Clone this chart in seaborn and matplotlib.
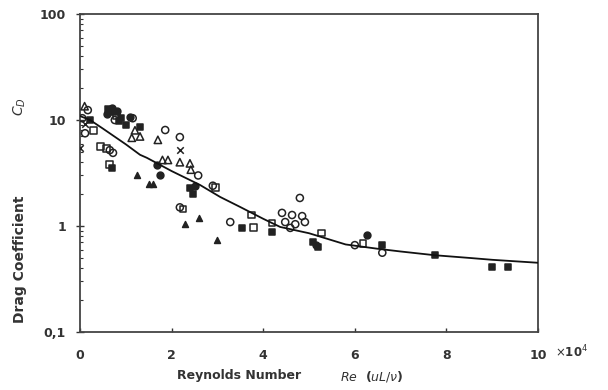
import seaborn as sns
import matplotlib.pyplot as plt
import matplotlib.ticker as mticker
import pandas as pd

sns.set_style("ticks")
plt.rcParams['font.family'] = ['DejaVu Sans']

# Reynolds number (x 10^4) and drag coefficient, per marker type
open_circle_x = [0.05, 0.17, 0.11, 0.65, 0.72, 1.15, 1.86, 2.18, 2.58, 2.9, 3.28, 4.8,
                 4.41, 4.63, 4.85, 4.48, 4.7, 4.91, 4.59, 6.0, 6.6, 2.18, 0.76]
open_circle_y = [10.4, 12.4, 7.5, 5.2, 4.9, 10.4, 8.05, 6.9, 3.0, 2.4, 1.09, 1.84,
                 1.33, 1.27, 1.24, 1.09, 1.04, 1.09, 0.96, 0.66, 0.56, 1.5, 10.0]

open_square_x = [0.57, 0.44, 0.3, 3.78, 3.75, 4.19, 5.28, 6.18, 2.25, 0.8, 2.95, 0.65]
open_square_y = [5.4, 5.6, 8.0, 0.96, 1.27, 1.07, 0.86, 0.69, 1.45, 11.0, 2.3, 3.8]

filled_square_x = [0.7, 3.54, 4.19, 5.2, 9.0, 9.35, 7.75, 6.6, 0.22, 1.0, 0.72, 0.9,
                   5.09, 2.47, 2.4, 1.31, 0.62, 0.85]
filled_square_y = [3.5, 0.96, 0.88, 0.63, 0.41, 0.41, 0.53, 0.66, 10.0, 8.9, 12.0, 10.5,
                   0.7, 2.0, 2.3, 8.6, 12.8, 9.8]

filled_circle_x = [6.27, 0.6, 1.1, 2.5, 1.68, 1.75, 5.15, 0.8, 0.7]
filled_circle_y = [0.82, 11.5, 10.6, 2.4, 3.8, 3.0, 0.66, 12.3, 13.0]

open_triangle_x = [0.1, 1.2, 1.31, 1.13, 1.7, 1.8, 1.92, 2.18, 2.4, 2.42]
open_triangle_y = [13.5, 8.0, 7.0, 6.8, 6.5, 4.2, 4.2, 4.0, 3.9, 3.4]

filled_triangle_x = [1.24, 2.6, 3.0, 1.5, 1.6, 2.3]
filled_triangle_y = [3.0, 1.2, 0.74, 2.5, 2.5, 1.05]

cross_x = [0.0, 2.18, 0.1]
cross_y = [5.4, 5.2, 9.2]

# fitted curve
curve_x = [0.0, 0.22, 0.5, 1.0, 1.31, 1.46, 2.0, 2.62, 3.06, 3.5, 4.0, 4.37, 5.0,
           5.8, 6.5, 7.0, 7.75, 8.5, 9.0, 10.0]
curve_y = [10.9, 10.0, 8.3, 5.9, 4.7, 4.4, 3.3, 2.44, 1.88, 1.51, 1.17, 0.98, 0.855,
           0.67, 0.61, 0.575, 0.53, 0.50, 0.48, 0.45]

fig = plt.figure(figsize=(6.08, 3.9), dpi=100)
ax = fig.add_axes([0.1316, 0.1487, 0.7533, 0.8153])

groups = [
    (open_circle_x, open_circle_y, "o", "none", 26),
    (open_square_x, open_square_y, "s", "none", 24),
    (filled_square_x, filled_square_y, "s", "#222222", 22),
    (filled_circle_x, filled_circle_y, "o", "#222222", 24),
    (open_triangle_x, open_triangle_y, "^", "none", 28),
    (filled_triangle_x, filled_triangle_y, "^", "#222222", 18),
]
for gx, gy, mk, fc, sz in groups:
    df = pd.DataFrame({"Re": gx, "Cd": gy})
    sns.scatterplot(data=df, x="Re", y="Cd", marker=mk, s=sz, facecolor=fc,
                    edgecolor="#222222", linewidth=1.1, ax=ax, zorder=3)

dfx = pd.DataFrame({"Re": cross_x, "Cd": cross_y})
sns.scatterplot(data=dfx, x="Re", y="Cd", marker="x", s=22, color="#222222",
                linewidth=1.1, ax=ax, zorder=3)

dfc = pd.DataFrame({"Re": curve_x, "Cd": curve_y})
sns.lineplot(data=dfc, x="Re", y="Cd", color="#111111", linewidth=1.3, ax=ax, zorder=4)

ax.set_yscale("log")
ax.set_xlim(0, 10)
ax.set_ylim(0.1, 100)
ax.set_xticks([0, 2, 4, 6, 8, 10])
ax.set_yticks([0.1, 1, 10, 100])
ax.yaxis.set_major_formatter(mticker.FixedFormatter(["0,1", "1", "10", "100"]))
ax.yaxis.set_minor_locator(mticker.LogLocator(base=10, subs=[2, 3, 4, 5, 6, 7, 8, 9]))
ax.yaxis.set_minor_formatter(mticker.NullFormatter())
ax.tick_params(axis="x", direction="in", length=3, width=1, labelsize=9, pad=12, colors="#333333")
ax.tick_params(axis="y", which="major", direction="inout", length=6, width=1, labelsize=9,
               pad=7, colors="#333333")
ax.tick_params(axis="y", which="minor", direction="in", length=2.5, width=0.8, colors="#333333")
for lab in ax.get_xticklabels() + ax.get_yticklabels():
    lab.set_fontweight("bold")
for sp in ax.spines.values():
    sp.set_linewidth(1.3)
    sp.set_color("#444444")
ax.set_xlabel("")
ax.set_ylabel("")

fig.text(572 / 608, 1 - 352 / 390, r"$\times$10$^4$", fontsize=8.5, fontweight="bold",
         color="#333333", ha="center", va="center")
fig.text(20 / 608, 1 - 259 / 390, "Drag Coefficient", rotation=90, fontsize=10,
         fontweight="bold", color="#333333", ha="center", va="center")
fig.text(20 / 608, 1 - 107 / 390, r"$C_D$", rotation=90, fontsize=10,
         fontweight="bold", color="#333333", ha="center", va="center")
fig.text(239 / 608, 1 - 376 / 390, "Reynolds Number", fontsize=9,
         fontweight="bold", color="#333333", ha="center", va="center")
fig.text(372 / 608, 1 - 376 / 390, r"$Re$  ($uL/\nu$)", fontsize=9,
         fontweight="bold", color="#333333", ha="center", va="center")

fig.savefig("out.png", dpi=100)
